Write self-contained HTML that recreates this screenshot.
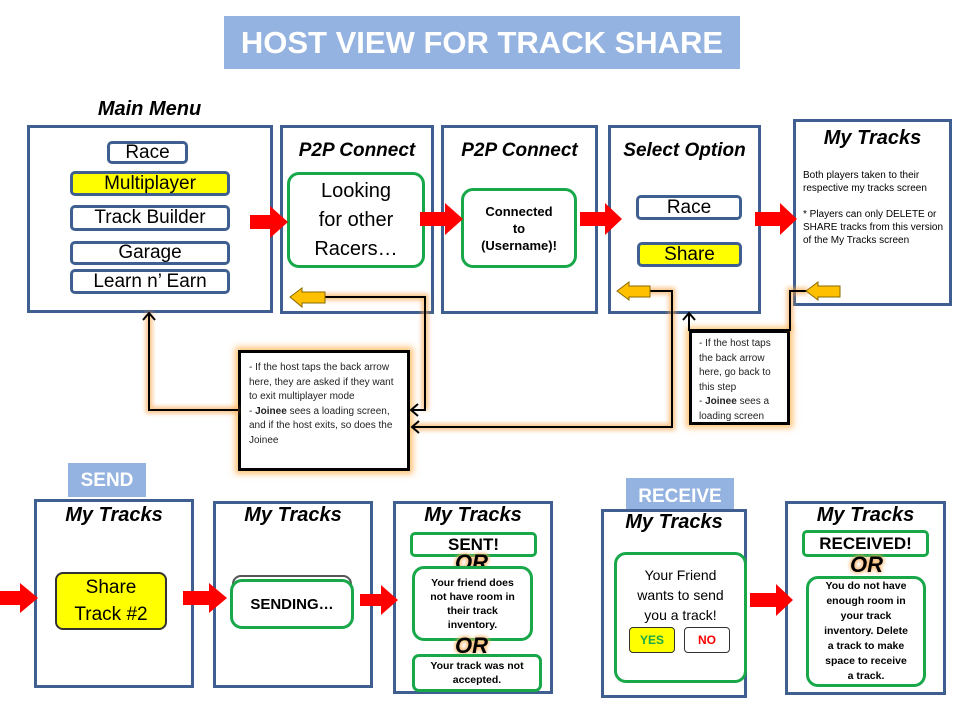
<!DOCTYPE html><html><head><style>
body{margin:0;width:960px;height:720px;position:relative;background:#fff;font-family:"Liberation Sans",sans-serif;overflow:hidden}
.a{position:absolute;box-sizing:border-box}
.fr{border:3px solid #3e5f8f;background:#fff}
.t{font-weight:bold;font-style:italic;font-size:20px;text-align:center;color:#000}
.btn{border:3px solid #3e5f8f;border-radius:5px;text-align:center;font-size:19px;background:#fff;display:flex;align-items:center;justify-content:center}
.g{border:3px solid #18a84a;border-radius:12px;text-align:center;background:#fff;display:flex;align-items:center;justify-content:center}
.nb{border:3px solid #000;background:#fff;box-shadow:0 0 6px 3px rgba(255,170,60,.7);font-size:10px;line-height:14.5px;padding:8px 8px;color:#222}
.or{font-weight:bold;font-style:italic;font-size:22px;text-shadow:0 0 4px #f9b060,0 0 4px #f9b060}
</style></head><body>
<div class="a" style="left:224px;top:16px;width:516px;height:53px;background:#95b3e0;color:#fff;font-weight:bold;font-size:31px;text-align:center;line-height:54px">HOST VIEW FOR TRACK SHARE</div>

<div class="a fr" style="left:27px;top:125px;width:246px;height:188px"></div>
<div class="a t" style="left:57px;top:98px;width:185px;height:26px;background:#fff">Main Menu</div>
<div class="a btn" style="left:107px;top:141px;width:81px;height:23px">Race</div>
<div class="a btn" style="left:70px;top:171px;width:160px;height:25px;background:#ff0">Multiplayer</div>
<div class="a btn" style="left:70px;top:205px;width:160px;height:26px">Track Builder</div>
<div class="a btn" style="left:70px;top:241px;width:160px;height:24px">Garage</div>
<div class="a btn" style="left:70px;top:269px;width:160px;height:25px">Learn n’ Earn</div>

<div class="a fr" style="left:280px;top:125px;width:154px;height:189px"></div>
<div class="a t" style="left:280px;top:140px;width:154px;font-size:19px">P2P Connect</div>
<div class="a g" style="left:287px;top:172px;width:138px;height:96px;font-size:20px;line-height:29px">Looking<br>for other<br>Racers…</div>

<div class="a fr" style="left:441px;top:125px;width:157px;height:189px"></div>
<div class="a t" style="left:441px;top:140px;width:157px;font-size:19px">P2P Connect</div>
<div class="a g" style="left:461px;top:188px;width:116px;height:80px;font-size:13px;font-weight:bold;line-height:17px">Connected<br>to<br>(Username)!</div>

<div class="a fr" style="left:608px;top:125px;width:153px;height:189px"></div>
<div class="a t" style="left:608px;top:140px;width:153px;font-size:19px">Select Option</div>
<div class="a btn" style="left:636px;top:195px;width:106px;height:25px">Race</div>
<div class="a btn" style="left:637px;top:242px;width:105px;height:25px;background:#ff0">Share</div>

<div class="a fr" style="left:793px;top:119px;width:159px;height:187px"></div>
<div class="a t" style="left:793px;top:127px;width:159px">My Tracks</div>
<div class="a" style="left:803px;top:169px;width:145px;font-size:10px;line-height:13px">Both players taken to their respective my tracks screen<br><br>* Players can only DELETE or SHARE tracks from this version of the My Tracks screen</div>

<div class="a nb" style="left:238px;top:350px;width:172px;height:121px">- If the host taps the back arrow here, they are asked if they want to exit multiplayer mode<br>- <b>Joinee</b> sees a loading screen, and if the host exits, so does the Joinee</div>
<div class="a nb" style="left:689px;top:330px;width:101px;height:95px;padding:4px 7px">- If the host taps the back arrow here, go back to this step<br>- <b>Joinee</b> sees a loading screen</div>

<div class="a" style="left:68px;top:463px;width:78px;height:34px;background:#95b3e0;color:#fff;font-weight:bold;font-size:19px;text-align:center;line-height:36px">SEND</div>
<div class="a" style="left:626px;top:478px;width:108px;height:32px;background:#95b3e0;color:#fff;font-weight:bold;font-size:19px;text-align:center;line-height:38px">RECEIVE</div>

<div class="a fr" style="left:34px;top:499px;width:160px;height:189px"></div>
<div class="a t" style="left:34px;top:504px;width:160px">My Tracks</div>
<div class="a" style="left:55px;top:572px;width:112px;height:58px;background:#ff0;border:2px solid #333;border-radius:8px;text-align:center;font-size:19px;line-height:27px">Share<br>Track #2</div>

<div class="a fr" style="left:213px;top:501px;width:160px;height:187px"></div>
<div class="a t" style="left:213px;top:504px;width:160px">My Tracks</div>
<div class="a" style="left:232px;top:575px;width:120px;height:52px;border:2px solid #555;border-radius:9px"></div>
<div class="a g" style="left:230px;top:579px;width:124px;height:50px;font-weight:bold;font-size:15px">SENDING…</div>

<div class="a fr" style="left:393px;top:501px;width:160px;height:193px"></div>
<div class="a t" style="left:393px;top:504px;width:160px">My Tracks</div>
<div class="a g" style="left:410px;top:532px;width:127px;height:25px;border-radius:5px;font-weight:bold;font-size:17px">SENT!</div>
<div class="a or" style="left:455px;top:550px">OR</div>
<div class="a g" style="left:412px;top:566px;width:121px;height:75px;font-weight:bold;font-size:10.5px;line-height:14px">Your friend does<br>not have room in<br>their track<br>inventory.</div>
<div class="a or" style="left:455px;top:633px">OR</div>
<div class="a g" style="left:412px;top:654px;width:130px;height:38px;border-radius:7px;font-weight:bold;font-size:10.5px;line-height:14px">Your track was not<br>accepted.</div>

<div class="a fr" style="left:601px;top:509px;width:146px;height:189px"></div>
<div class="a t" style="left:601px;top:511px;width:146px">My Tracks</div>
<div class="a g" style="left:614px;top:552px;width:133px;height:131px;align-items:flex-start;padding-top:10px;font-size:14px;line-height:20px">Your Friend<br>wants to send<br>you a track!</div>
<div class="a" style="left:629px;top:627px;width:46px;height:26px;background:#ff0;border:1px solid #333;border-radius:4px;color:#18a84a;font-weight:bold;font-size:12px;text-align:center;line-height:25px">YES</div>
<div class="a" style="left:684px;top:627px;width:46px;height:26px;background:#fff;border:1px solid #333;border-radius:4px;color:#f00;font-weight:bold;font-size:12px;text-align:center;line-height:25px">NO</div>

<div class="a fr" style="left:785px;top:501px;width:161px;height:194px"></div>
<div class="a t" style="left:785px;top:504px;width:161px">My Tracks</div>
<div class="a g" style="left:802px;top:530px;width:127px;height:27px;border-radius:5px;font-weight:bold;font-size:17px">RECEIVED!</div>
<div class="a or" style="left:850px;top:552px">OR</div>
<div class="a g" style="left:806px;top:576px;width:120px;height:111px;font-weight:bold;font-size:10.5px;line-height:15px">You do not have<br>enough room in<br>your track<br>inventory. Delete<br>a track to make<br>space to receive<br>a track.</div>

<svg class="a" style="left:0;top:0" width="960" height="720">
<defs><filter id="gl"><feGaussianBlur stdDeviation="2"/></filter></defs>
<g fill="#f00">
<polygon points="250,215 270,215 270,206 288,222 270,238 270,229 250,229"/>
<polygon points="420,212 445,212 445,203 463,219 445,235 445,226 420,226"/>
<polygon points="580,212 605,212 605,203 622,219 605,235 605,226 580,226"/>
<polygon points="755,212 780,212 780,203 797,219 780,235 780,226 755,226"/>
<polygon points="0,591 20,591 20,583 38,598 20,613 20,605 0,605"/>
<polygon points="183,591 209,591 209,583 227,598 209,613 209,605 183,605"/>
<polygon points="360,594 381,594 381,585 398,600 381,615 381,606 360,606"/>
<polygon points="750,593 776,593 776,584 793,600 776,616 776,607 750,607"/>
</g>
<g stroke="#f7a040" stroke-width="7" fill="none" opacity=".6" filter="url(#gl)">
<polyline points="316,297 425,297 425,410"/><polyline points="640,291 672,291 672,427 412,427"/>
<polyline points="808,291 790,291 790,330"/><polyline points="238,410 149,410 149,312"/>
</g>
<g stroke="#000" stroke-width="2" fill="none">
<polyline points="316,297 425,297 425,410 412,410"/><polyline points="418,404 411,410 418,416"/>
<polyline points="640,291 672,291 672,427 412,427"/><polyline points="419,421 412,427 419,433"/>
<polyline points="808,291 790,291 790,330 689,330 689,314"/><polyline points="683,320 689,313 695,320"/>
<polyline points="238,410 149,410 149,313"/><polyline points="143,320 149,313 155,320"/>
</g>
<g fill="#ffc000" stroke="#8a6a00" stroke-width="1">
<polygon points="290,297 302,288 302,292 325,292 325,303 302,303 302,307"/>
<polygon points="617,291 629,282 629,286 650,286 650,297 629,297 629,300"/>
<polygon points="806,291 818,282 818,286 840,286 840,297 818,297 818,300"/>
</g>
</svg>
</body></html>
